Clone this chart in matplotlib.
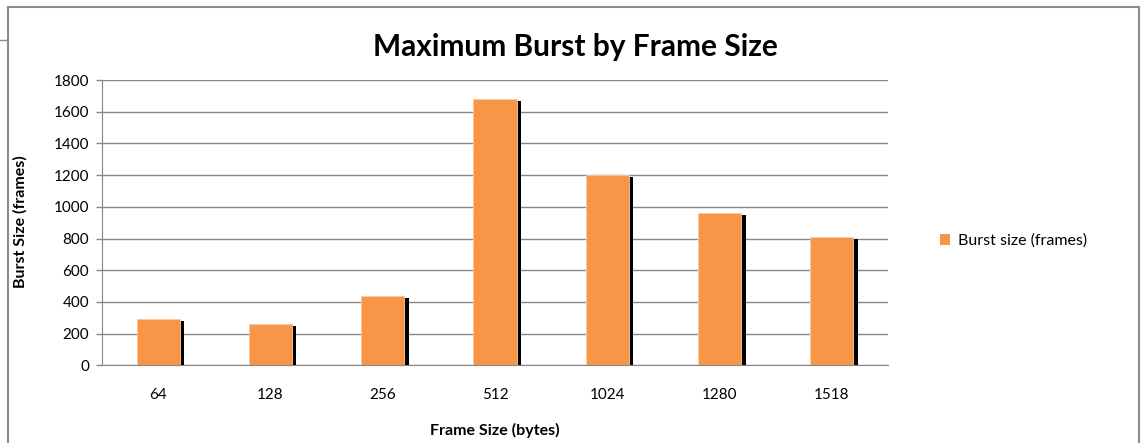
import matplotlib
matplotlib.use("Agg")
import matplotlib.pyplot as plt
import matplotlib.patheffects as pe
from matplotlib.lines import Line2D
from matplotlib.patches import Patch

frame_sizes = ["64", "128", "256", "512", "1024", "1280", "1518"]
burst_frames = [294, 260, 440, 1683, 1200, 960, 812]
y_ticks = [0, 200, 400, 600, 800, 1000, 1200, 1400, 1600, 1800]

plt.rcParams["font.family"] = ["Lato", "DejaVu Sans"]

W, H = 1144, 443
fig = plt.figure(figsize=(W / 100, H / 100), dpi=100)
ax = fig.add_axes([102 / W, 1 - 365.3 / H, (888 - 102) / W, (365.3 - 80) / H])

grid_c = "#878787"
bar_c = "#F79646"
bars = ax.bar(range(len(frame_sizes)), burst_frames, width=0.385,
              color=bar_c, edgecolor="#FBC9A2", linewidth=0.6, zorder=3)
for b in bars:
    b.set_path_effects([
        pe.SimplePatchShadow(offset=(3.2, -1.5), shadow_rgbFace="black", alpha=1.0),
        pe.Normal(),
    ])

ax.set_xlim(-0.5, len(frame_sizes) - 0.5)
ax.set_ylim(0, 1800)
ax.set_yticks(y_ticks)
ax.set_xticks(range(len(frame_sizes)))
ax.set_xticklabels(frame_sizes)
ax.tick_params(axis="y", length=4.3, width=1, color=grid_c, labelsize=11, pad=5)
ax.tick_params(axis="x", length=0, labelsize=11, pad=16)
ax.yaxis.grid(True, color=grid_c, linewidth=1)
ax.set_axisbelow(True)
for s in ["top", "right"]:
    ax.spines[s].set_visible(False)
ax.spines["left"].set_color(grid_c)
ax.spines["bottom"].set_color(grid_c)

fig.text(575 / W, 1 - 47 / H, "Maximum Burst by Frame Size", ha="center", va="center",
         fontsize=21.5, fontweight="bold")
fig.text(20 / W, 1 - 222 / H, "Burst Size (frames)", ha="center", va="center",
         rotation=90, fontsize=11.5, fontweight="bold")
fig.text(495 / W, 1 - 430 / H, "Frame Size (bytes)", ha="center", va="center",
         fontsize=11.5, fontweight="bold")

fig.legend([Patch(facecolor=bar_c)], ["Burst size (frames)"], loc="center left",
           bbox_to_anchor=(926 / W, 1 - 241 / H), frameon=False,
           fontsize=11.5, handlelength=0.6, handleheight=0.6, handletextpad=0.5)

frame_c = "#8c8c8c"
fig.add_artist(Line2D([8 / W, 8 / W], [0, 1 - 7 / H], color=frame_c, linewidth=1.5))
fig.add_artist(Line2D([8 / W, 1139 / W], [1 - 7 / H, 1 - 7 / H], color=frame_c, linewidth=1.5))
fig.add_artist(Line2D([1139 / W, 1139 / W], [0, 1 - 7 / H], color=frame_c, linewidth=1.5))
fig.add_artist(Line2D([0, 8 / W], [1 - 40 / H, 1 - 40 / H], color=frame_c, linewidth=1))

fig.savefig("out.png", dpi=100)
